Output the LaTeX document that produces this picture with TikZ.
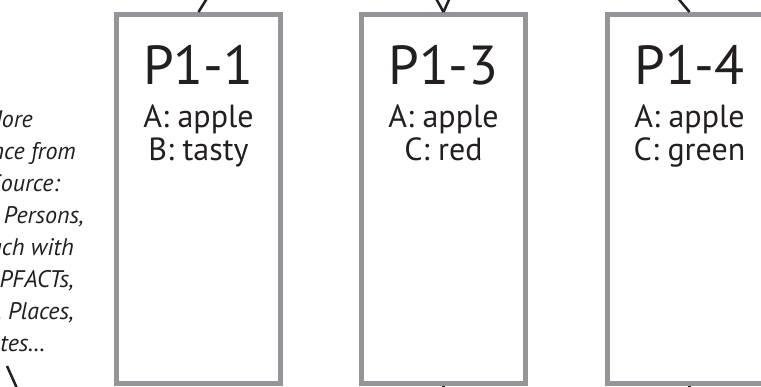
\documentclass[tikz,border=0pt]{standalone}
\usepackage{fontspec}
\setmainfont{PT Sans}
\definecolor{boxgray}{HTML}{939598}
\definecolor{ink}{HTML}{231F20}
\begin{document}
\begin{tikzpicture}[x=1pt,y=-1pt,
  pbox/.style={draw=boxgray, line width=5pt, minimum width=164pt, minimum height=369pt, inner sep=0pt, fill=white},
  ptitle/.style={font=\fontsize{55}{60}\selectfont, text=ink, anchor=base, inner sep=0pt},
  pline/.style={font=\fontsize{32}{35}\selectfont, text=ink, anchor=base, inner sep=0pt},
  note/.style={font=\fontsize{24}{32}\selectfont\itshape, text=ink, anchor=base east, inner sep=0pt},
  link/.style={draw=ink, line width=2.5pt}]
\useasboundingbox (0,0) rectangle (761,387);
\clip (0,0) rectangle (761,387);
\fill[white] (0,0) rectangle (761,387);

% boxes
\node[pbox] (b1) at (198.5,199) {};
\node[pbox] (b3) at (443.5,199) {};
\node[pbox] (b4) at (689.5,199) {};

% box texts
\node[ptitle] (t1) at (198.5,85) {P1-1};
\node[pline] (t1a) at (198.5,128) {A: apple};
\node[pline] (t1b) at (198.5,161) {B: tasty};
\node[ptitle] (t3) at (443.5,85) {P1-3};
\node[pline] (t3a) at (443.5,128) {A: apple};
\node[pline] (t3b) at (443.5,161) {C: red};
\node[ptitle] (t4) at (689.5,85) {P1-4};
\node[pline] (t4a) at (689.5,128) {A: apple};
\node[pline] (t4b) at (689.5,161) {C: green};

% left note (cut by the left edge, as in the reference)
\node[note] (n1) at (33,128) {More};
\node[note] (n2) at (76,160) {ance from};
\node[note] (n3) at (60,192) {Source:};
\node[note] (n4) at (84,224) {e.g. Persons,};
\node[note] (n5) at (74,256) {each with};
\node[note] (n6) at (74,288) {PFACTs,};
\node[note] (n7) at (74,320) {Events, Places,};
\node[note] (n8) at (46,352) {Dates…};

% connector ends outside the picture
\coordinate (u1) at (216,-16);
\coordinate (u3l) at (428,-16);
\coordinate (u3r) at (456,-16);
\coordinate (u4) at (666,-16);
\coordinate (d3) at (443.5,410);
\coordinate (d4) at (689.5,410);
\coordinate (nl1) at (7,366);
\coordinate (nl2) at (20,395);

\draw[link] (u1) -- (b1.north);
\draw[link] (u3l) -- (b3.north);
\draw[link] (u3r) -- (b3.north);
\draw[link] (u4) -- (b4.north);
\draw[link] (b3.south) -- (d3);
\draw[link] (b4.south) -- (d4);
\draw[link] (nl1) -- (nl2);
\end{tikzpicture}
\end{document}
